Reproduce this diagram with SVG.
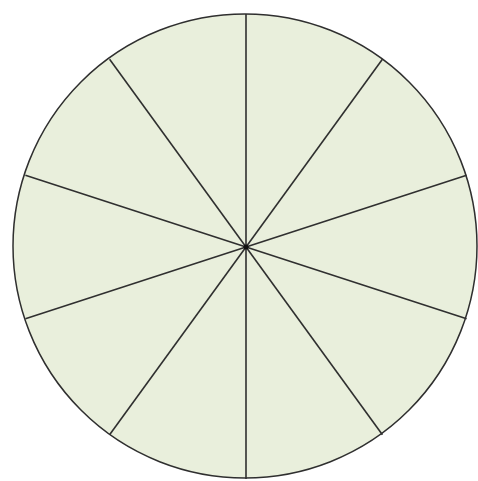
<svg xmlns="http://www.w3.org/2000/svg" width="478" height="481" viewBox="0 0 478 481">
<style>
.c{fill:#e9efdc;stroke:#2f2f2f;stroke-width:1.5}
.s{stroke:#2f2f2f;stroke-width:1.6;fill:none}
</style>
<rect width="478" height="481" fill="#ffffff"/>
<g id="circle"><circle class="c" cx="245" cy="246" r="232"/></g>
<g id="connectors">
<line class="s" x1="246" y1="14" x2="246" y2="479"/>
<line class="s" x1="382.4" y1="59.3" x2="109.6" y2="434.7"/>
<line class="s" x1="466.6" y1="175.3" x2="25.4" y2="318.7"/>
<line class="s" x1="466.6" y1="318.7" x2="25.4" y2="175.3"/>
<line class="s" x1="382.4" y1="434.7" x2="109.6" y2="59.3"/>
</g>
<circle cx="246" cy="247" r="2.5" fill="#111"/>
</svg>
